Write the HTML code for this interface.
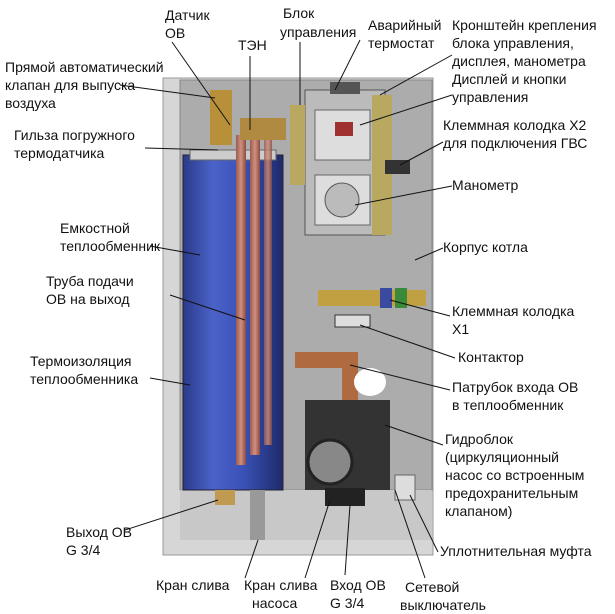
<!DOCTYPE html>
<html><head><meta charset="utf-8"><style>
body{margin:0;background:#fff}
svg{display:block}
text{font-family:"Liberation Sans",Arial,sans-serif;font-size:14px;fill:#111}
</style></head><body>
<svg width="615" height="614" viewBox="0 0 615 614">
<defs>
<linearGradient id="cyl" x1="0" x2="1">
<stop offset="0" stop-color="#2a3a8a"/><stop offset="0.3" stop-color="#4b63c8"/><stop offset="0.6" stop-color="#3a52b8"/><stop offset="1" stop-color="#1e2a6a"/>
</linearGradient>
<linearGradient id="cu" x1="0" x2="1">
<stop offset="0" stop-color="#9a5a50"/><stop offset="0.5" stop-color="#d09080"/><stop offset="1" stop-color="#8a4a40"/>
</linearGradient>
</defs>
<!-- body -->
<rect x="163" y="78" width="270" height="477" fill="#d6d6d6" stroke="#999"/>
<rect x="180" y="80" width="252" height="410" fill="#acacac" stroke="#888"/>
<rect x="180" y="490" width="252" height="50" fill="#c8c8c8"/>
<!-- cylinder -->
<rect x="183" y="155" width="100" height="335" fill="url(#cyl)" stroke="#223"/>
<rect x="190" y="150" width="86" height="10" fill="#ccc" stroke="#666"/>
<!-- TEN tubes -->
<rect x="236" y="135" width="10" height="330" fill="url(#cu)"/>
<rect x="250" y="135" width="10" height="320" fill="url(#cu)"/>
<rect x="264" y="135" width="8" height="310" fill="url(#cu)" opacity="0.8"/>
<rect x="240" y="118" width="46" height="22" fill="#b08a40"/>
<rect x="210" y="90" width="22" height="55" fill="#b8903a"/>
<!-- control block -->
<rect x="305" y="90" width="80" height="145" fill="#bbb" stroke="#555"/>
<rect x="315" y="110" width="55" height="50" fill="#ddd" stroke="#666"/>
<rect x="335" y="122" width="18" height="14" fill="#a03030"/>
<rect x="315" y="175" width="55" height="50" fill="#ddd" stroke="#666"/>
<circle cx="342" cy="200" r="17" fill="#bbb" stroke="#555"/>
<rect x="290" y="105" width="15" height="80" fill="#b8a860"/>
<rect x="372" y="95" width="20" height="140" fill="#b8a860"/>
<rect x="330" y="82" width="30" height="12" fill="#555"/>
<rect x="385" y="160" width="25" height="14" fill="#333"/>
<!-- terminal X1 -->
<rect x="318" y="290" width="108" height="16" fill="#c0a040"/>
<rect x="395" y="288" width="12" height="20" fill="#3a8a3a"/>
<rect x="380" y="288" width="12" height="20" fill="#3a4aa0"/>
<rect x="335" y="315" width="35" height="12" fill="#ddd" stroke="#333"/>
<!-- pipe -->
<path d="M295 360 H350 V410" stroke="#b06a40" stroke-width="16" fill="none"/>
<ellipse cx="370" cy="382" rx="16" ry="14" fill="#fff"/>
<!-- pump -->
<rect x="305" y="400" width="85" height="90" fill="#333"/>
<circle cx="330" cy="462" r="22" fill="#888" stroke="#222" stroke-width="3"/>
<rect x="395" y="475" width="20" height="25" fill="#ddd" stroke="#666"/>
<rect x="215" y="490" width="20" height="15" fill="#c09a50"/>
<rect x="250" y="490" width="15" height="50" fill="#999"/>
<rect x="325" y="488" width="40" height="18" fill="#222"/>
<!-- lines -->
<g stroke="#111" stroke-width="1" fill="none">
<line x1="172" y1="42" x2="230" y2="125"/>
<line x1="250" y1="56" x2="250" y2="130"/>
<line x1="300" y1="42" x2="300" y2="105"/>
<line x1="360" y1="40" x2="335" y2="90"/>
<line x1="452" y1="55" x2="380" y2="95"/>
<line x1="452" y1="95" x2="360" y2="125"/>
<line x1="443" y1="142" x2="400" y2="165"/>
<line x1="452" y1="186" x2="355" y2="205"/>
<line x1="443" y1="248" x2="415" y2="260"/>
<line x1="450" y1="316" x2="390" y2="300"/>
<line x1="455" y1="358" x2="360" y2="325"/>
<line x1="450" y1="390" x2="350" y2="365"/>
<line x1="443" y1="445" x2="385" y2="425"/>
<line x1="438" y1="552" x2="410" y2="495"/>
<line x1="425" y1="578" x2="395" y2="490"/>
<line x1="345" y1="575" x2="350" y2="505"/>
<line x1="305" y1="578" x2="330" y2="500"/>
<line x1="245" y1="578" x2="258" y2="540"/>
<line x1="125" y1="530" x2="218" y2="500"/>
<line x1="120" y1="85" x2="215" y2="98"/>
<line x1="145" y1="148" x2="218" y2="150"/>
<line x1="150" y1="246" x2="200" y2="255"/>
<line x1="170" y1="295" x2="245" y2="320"/>
<line x1="150" y1="378" x2="190" y2="385"/>
</g>
<!-- labels -->
<text x="165" y="20">Датчик</text><text x="165" y="38">ОВ</text>
<text x="238" y="50">ТЭН</text>
<text x="283" y="18">Блок</text><text x="280" y="37">управления</text>
<text x="368" y="30">Аварийный</text><text x="368" y="48">термостат</text>
<text x="452" y="30">Кронштейн крепления</text><text x="452" y="48">блока управления,</text><text x="452" y="66">дисплея, манометра</text>
<text x="452" y="84">Дисплей и кнопки</text><text x="452" y="102">управления</text>
<text x="443" y="130">Клеммная колодка Х2</text><text x="443" y="148">для подключения ГВС</text>
<text x="452" y="190">Манометр</text>
<text x="443" y="252">Корпус котла</text>
<text x="452" y="316">Клеммная колодка</text><text x="452" y="334">Х1</text>
<text x="458" y="362">Контактор</text>
<text x="452" y="392">Патрубок входа ОВ</text><text x="452" y="410">в теплообменник</text>
<text x="445" y="444">Гидроблок</text><text x="445" y="462">(циркуляционный</text><text x="445" y="480">насос со встроенным</text><text x="445" y="498">предохранительным</text><text x="445" y="516">клапаном)</text>
<text x="440" y="556">Уплотнительная муфта</text>
<text x="405" y="592">Сетевой</text><text x="400" y="610">выключатель</text>
<text x="330" y="590">Вход ОВ</text><text x="330" y="608">G 3/4</text>
<text x="244" y="590">Кран слива</text><text x="252" y="608">насоса</text>
<text x="156" y="590">Кран слива</text>
<text x="66" y="537">Выход ОВ</text><text x="66" y="555">G 3/4</text>
<text x="5" y="72">Прямой автоматический</text><text x="5" y="90">клапан для выпуска</text><text x="5" y="108">воздуха</text>
<text x="14" y="140">Гильза погружного</text><text x="14" y="158">термодатчика</text>
<text x="60" y="233">Емкостной</text><text x="60" y="251">теплообменник</text>
<text x="46" y="286">Труба подачи</text><text x="46" y="304">ОВ на выход</text>
<text x="30" y="366">Термоизоляция</text><text x="30" y="384">теплообменника</text>
</svg>
</body></html>
